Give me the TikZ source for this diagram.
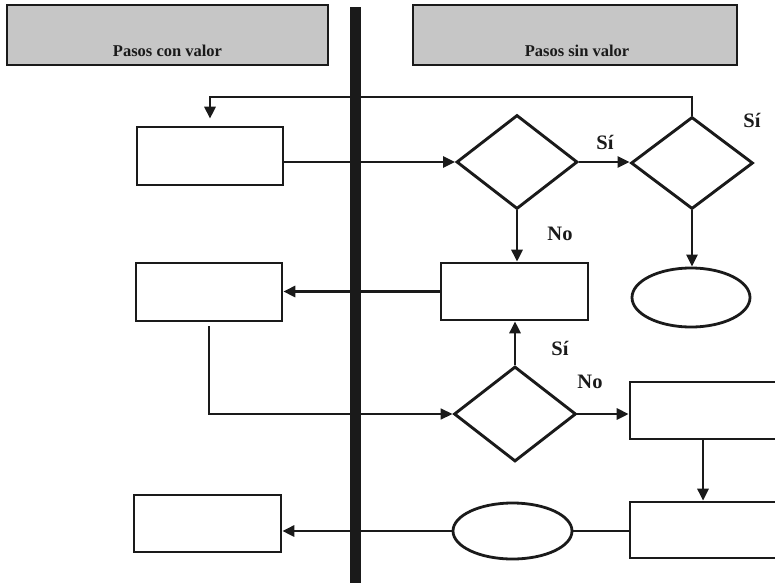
\documentclass[tikz,border=0pt]{standalone}
\usepackage{fontspec}
\setmainfont{Liberation Serif}
\usetikzlibrary{shapes.geometric,arrows.meta}
\definecolor{ink}{HTML}{1A1A1A}
\definecolor{hdrgray}{HTML}{C6C6C6}
\begin{document}
\begin{tikzpicture}[x=1pt,y=-1pt]
\tikzset{
  lane/.style={draw=ink, line width=2.8pt, fill=hdrgray, inner sep=0pt, minimum height=60pt},
  lanetext/.style={font=\fontsize{16.5}{16.5}\selectfont\bfseries, anchor=base, inner sep=0pt, text=ink},
  stepbox/.style={draw=ink, line width=2.6pt, rectangle, inner sep=0pt},
  choice/.style={draw=ink, line width=2.9pt, diamond, inner sep=0pt, minimum width=121pt, minimum height=94pt},
  term/.style={draw=ink, line width=2.8pt, ellipse, inner sep=0pt},
  conn/.style={draw=ink, line width=2.7pt},
  arr/.style={conn, -{Triangle[length=12pt,width=11pt]}},
  ans/.style={font=\fontsize{20.5}{20.5}\selectfont\bfseries, text=ink, inner sep=0pt},
}
\useasboundingbox (0,0) rectangle (775,583);
\clip (0,0) rectangle (775,583);

% swimlane headers
\node[lane, minimum width=321pt] (h1) at (167.5,35) {};
\node[lane, minimum width=324pt] (h2) at (575,35) {};
\node[lanetext] (t1) at (167.5,57) {Pasos con valor};
\node[lanetext] (t2) at (577,57) {Pasos sin valor};

% value-adding steps (left lane)
\node[stepbox, minimum width=146pt, minimum height=58pt] (a1) at (210,156) {};
\node[stepbox, minimum width=146pt, minimum height=58pt] (a2) at (209,292) {};
\node[stepbox, minimum width=147pt, minimum height=57pt] (a3) at (207.5,523.5) {};

% non-value steps (right lane)
\node[choice] (d1) at (517,162) {};
\node[choice, minimum width=122pt, minimum height=92pt] (d2) at (692,163) {};
\node[choice, minimum width=122pt, minimum height=95pt] (d3) at (515,414) {};
\node[stepbox, minimum width=147pt, minimum height=57pt] (b1) at (514.5,291.5) {};
\node[term, minimum width=118pt, minimum height=59pt] (e1) at (691,297.5) {};
\node[term, minimum width=119pt, minimum height=56pt] (e2) at (512.5,531) {};
\node[stepbox, minimum width=290pt, minimum height=57pt] (c1) at (775,410.5) {};
\node[stepbox, minimum width=290pt, minimum height=56pt] (c2) at (775,530) {};

% routing helpers
\coordinate (looptop) at (0,97);
\coordinate (drop) at (703,0);

% connectors
\draw[arr, shorten >=7pt] (d2.north) -- (d2.north |- looptop) -| (a1.north);
\draw[arr] (d1.west -| a1.east) -- (d1.west);
\draw[arr] (d1.east) -- (d1.east -| d2.west);
\draw[arr] (d1.south) -- (d1.south |- b1.north);
\draw[arr] (d2.south) -- (d2.south |- e1.north);
\draw[arr] (b1.west) -- (b1.west -| a2.east);
\draw[arr, line width=1.6pt] ([yshift=-4pt]a2.south) |- (d3.west);
\draw[arr] (d3.north) -- (d3.north |- b1.south);
\draw[arr] (d3.east) -- (d3.east -| c1.west);
\draw[arr] (c1.south -| drop) -- (c2.north -| drop);
\draw[conn] (c2.west |- e2.east) -- (e2.east);
\draw[arr] (e2.west) -- (e2.west -| a3.east);

% branch labels
\node[ans] (l1) at (605,142) {Sí};
\node[ans] (l2) at (752,120) {Sí};
\node[ans] (l3) at (560,234) {No};
\node[ans] (l4) at (560,348) {Sí};
\node[ans] (l5) at (590,382) {No};

% lane divider
\fill[ink] (350,7) rectangle (361,583);
\end{tikzpicture}
\end{document}
